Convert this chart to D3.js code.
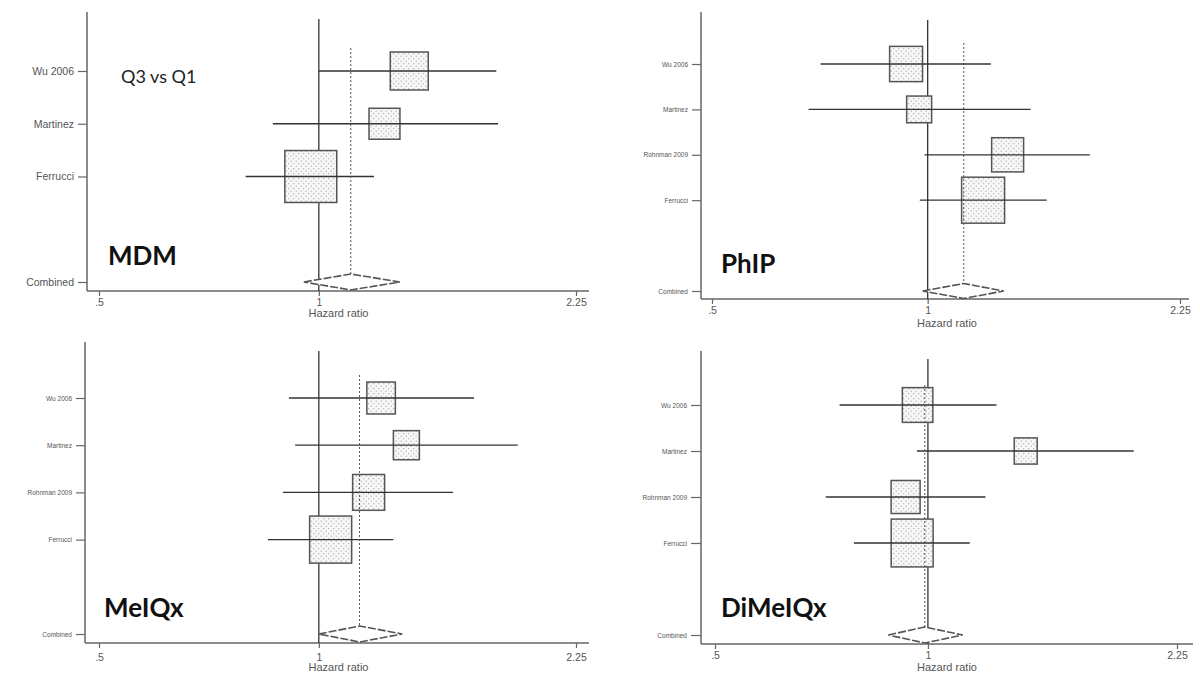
<!DOCTYPE html>
<html>
<head>
<meta charset="utf-8">
<script src="https://cdn.jsdelivr.net/npm/d3@7"></script>
<style>
  body { margin: 0; background: #fff; }
  .lbl text { font-family: "Liberation Sans", Arial, sans-serif; fill: #555; }
</style>
</head>
<body>
<div id="chart"></div>
<script>
let width = 1200, height = 673;

// study names and x-axis ticks
const studies3 = ['Wu 2006', 'Martinez', 'Ferrucci'];
const studies4 = ['Wu 2006', 'Martinez', 'Rohnman 2009', 'Ferrucci'];
const xTicks = [0.5, 1, 2.25];
const xTickLabels = ['.5', '1', '2.25'];

// MDM (Q3 vs Q1): hazard ratio, 95% CI, weight (%), combined [hr, low, high]
const mdmHR = [1.33, 1.23, 0.975];
const mdmLow = [1.0, 0.865, 0.794];
const mdmHigh = [1.75, 1.76, 1.19];
const mdmWeight = [28.3, 18.8, 52.9];
const mdmCombined = [1.106, 0.954, 1.291];

// PhIP
const phipHR = [0.933, 0.973, 1.293, 1.195];
const phipLow = [0.709, 0.682, 0.99, 0.975];
const phipHigh = [1.225, 1.392, 1.684, 1.466];
const phipWeight = [23.7, 13.6, 22.3, 40.3];
const phipCombined = [1.123, 0.984, 1.277];

// MeIQx
const meiqxHR = [1.217, 1.318, 1.17, 1.038];
const meiqxLow = [0.91, 0.928, 0.893, 0.852];
const meiqxHigh = [1.631, 1.872, 1.527, 1.265];
const meiqxWeight = [19.0, 15.8, 23.9, 41.3];
const meiqxCombined = [1.137, 1.0, 1.301];

// DiMeIQx
const dimeiqxHR = [0.967, 1.375, 0.93, 0.95];
const dimeiqxLow = [0.75, 0.965, 0.717, 0.786];
const dimeiqxHigh = [1.25, 1.954, 1.206, 1.146];
const dimeiqxWeight = [22.9, 13.0, 20.7, 43.4];
const dimeiqxCombined = [0.99, 0.879, 1.12];

let svg = d3.select('#chart')
    .append('svg')
    .attr('width', width)
    .attr('height', height);

// dotted fill for the study boxes
let pat = svg.append('defs').append('pattern')
    .attr('id', 'dots')
    .attr('width', 5).attr('height', 5)
    .attr('patternUnits', 'userSpaceOnUse');
pat.append('rect').attr('width', 5).attr('height', 5).attr('fill', '#f7f7f7');
pat.append('circle').attr('cx', 1.2).attr('cy', 1.2).attr('r', 0.65).attr('fill', '#a8a8a8');
pat.append('circle').attr('cx', 3.7).attr('cy', 3.7).attr('r', 0.65).attr('fill', '#a8a8a8');

let panels = [
    {title: 'MDM', sub: 'Q3 vs Q1', names: studies3, hr: mdmHR, low: mdmLow, high: mdmHigh, wt: mdmWeight, comb: mdmCombined,
     left: 87, right: 589, top: 12, axisY: 291, x05: 99, x225: 576, rowFirst: 71, rowLast: 282,
     refTop: 19, dashTop: 48, boxK: 7.14, aspect: 1.0, labelSize: 10.5, labelRight: 74,
     titleX: 108, titleY: 265, tickY: 306, hazY: 317, dh: 8},
    {title: 'PhIP', names: studies4, hr: phipHR, low: phipLow, high: phipHigh, wt: phipWeight, comb: phipCombined,
     left: 701, right: 1189, top: 12, axisY: 299, x05: 712, x225: 1180, rowFirst: 64, rowLast: 291,
     refTop: 20, dashTop: 43, boxK: 6.77, aspect: 1.07, labelSize: 6.5, labelRight: 688,
     titleX: 721, titleY: 273, tickY: 314, hazY: 327, dh: 7.5},
    {title: 'MeIQx', names: studies4, hr: meiqxHR, low: meiqxLow, high: meiqxHigh, wt: meiqxWeight, comb: meiqxCombined,
     left: 85, right: 589, top: 342, axisY: 643, x05: 99, x225: 576, rowFirst: 398, rowLast: 634,
     refTop: 351, dashTop: 375, boxK: 6.54, aspect: 1.12, labelSize: 6.5, labelRight: 72,
     titleX: 104, titleY: 617, tickY: 661, hazY: 671, dh: 8},
    {title: 'DiMeIQx', names: studies4, hr: dimeiqxHR, low: dimeiqxLow, high: dimeiqxHigh, wt: dimeiqxWeight, comb: dimeiqxCombined,
     left: 701, right: 1193, top: 351, axisY: 644, x05: 715, x225: 1177, rowFirst: 405, rowLast: 635,
     refTop: 359, dashTop: 385, boxK: 6.37, aspect: 1.14, labelSize: 6.5, labelRight: 687,
     titleX: 721, titleY: 617, tickY: 659, hazY: 671, dh: 8}
];

panels.forEach(drawPanel);

function drawPanel(p) {
    let g = svg.append('g');
    let n = p.names.length;

    let xScale = d3.scaleLog()
        .domain([0.5, 2.25])
        .range([p.x05, p.x225]);
    // studies on rows 0..n-1, one empty row, then the combined estimate
    let yScale = d3.scaleLinear()
        .domain([0, n + 1])
        .range([p.rowFirst, p.rowLast]);
    let boxScale = d3.scaleSqrt()
        .domain([0, 1])
        .range([0, p.boxK]);

    let rows = p.names.map((name, i) => ({name: name, i: i, hr: p.hr[i], low: p.low[i], high: p.high[i], wt: p.wt[i]}));

    // axes lines
    g.append('line')
        .attr('x1', p.left).attr('x2', p.left)
        .attr('y1', p.top).attr('y2', p.axisY)
        .attr('stroke', '#666').attr('stroke-width', 1.5);
    g.append('line')
        .attr('x1', p.left).attr('x2', p.right)
        .attr('y1', p.axisY).attr('y2', p.axisY)
        .attr('stroke', '#666').attr('stroke-width', 1.5);

    // x axis ticks
    let xAxis = d3.axisBottom(xScale)
        .tickValues(xTicks)
        .tickFormat((d, i) => xTickLabels[i])
        .tickSize(5)
        .tickPadding(2);
    let xg = g.append('g')
        .attr('class', 'lbl')
        .attr('transform', `translate(0,${p.axisY})`)
        .call(xAxis);
    xg.select('.domain').remove();
    xg.selectAll('line').attr('stroke', '#666').attr('stroke-width', 1.2);
    xg.selectAll('text')
        .attr('y', null).attr('dy', null)
        .attr('transform', `translate(0,${p.tickY - p.axisY})`)
        .style('font-size', '10.5px');

    // y axis ticks and labels
    let yVals = d3.range(n).concat([n + 1]);
    let yLabels = p.names.concat(['Combined']);
    let yAxis = d3.axisLeft(yScale)
        .tickValues(yVals)
        .tickFormat((d, i) => yLabels[i])
        .tickSize(p.left - p.labelRight - 4)
        .tickPadding(4);
    let yg = g.append('g')
        .attr('class', 'lbl')
        .attr('transform', `translate(${p.left},0)`)
        .call(yAxis);
    yg.select('.domain').remove();
    yg.selectAll('line').attr('stroke', '#666').attr('stroke-width', 1.2);
    yg.selectAll('text').style('font-size', p.labelSize + 'px');

    // line of no effect
    g.append('line')
        .attr('x1', xScale(1)).attr('x2', xScale(1))
        .attr('y1', p.refTop).attr('y2', p.axisY)
        .attr('stroke', '#333').attr('stroke-width', 1.3);

    // study boxes
    g.selectAll('rect.box')
        .data(rows)
        .join('rect')
        .attr('class', 'box')
        .attr('x', d => xScale(d.hr) - boxScale(d.wt) / 2)
        .attr('y', d => yScale(d.i) - boxScale(d.wt) * p.aspect / 2)
        .attr('width', d => boxScale(d.wt))
        .attr('height', d => boxScale(d.wt) * p.aspect)
        .attr('fill', 'url(#dots)')
        .attr('stroke', '#555')
        .attr('stroke-width', 1.5);

    // confidence intervals
    g.selectAll('line.ci')
        .data(rows)
        .join('line')
        .attr('class', 'ci')
        .attr('x1', d => xScale(d.low))
        .attr('x2', d => xScale(d.high))
        .attr('y1', d => yScale(d.i))
        .attr('y2', d => yScale(d.i))
        .attr('stroke', '#333')
        .attr('stroke-width', 1.3);

    // combined estimate line
    g.append('line')
        .attr('x1', xScale(p.comb[0])).attr('x2', xScale(p.comb[0]))
        .attr('y1', p.dashTop).attr('y2', p.axisY)
        .attr('stroke', '#555').attr('stroke-width', 1)
        .attr('stroke-dasharray', '2,2');

    // combined diamond
    let yc = yScale(n + 1);
    let pts = [
        [xScale(p.comb[1]), yc],
        [xScale(p.comb[0]), yc - p.dh],
        [xScale(p.comb[2]), yc],
        [xScale(p.comb[0]), yc + p.dh]
    ];
    g.append('path')
        .attr('d', d3.line()(pts) + 'Z')
        .attr('fill', '#fff')
        .attr('stroke', '#555')
        .attr('stroke-width', 1.6)
        .attr('stroke-dasharray', '8,2');

    // x axis title
    g.append('text')
        .attr('x', (p.x05 + p.x225) / 2 + 1)
        .attr('y', p.hazY)
        .attr('text-anchor', 'middle')
        .style('font-family', '"Liberation Sans", Arial, sans-serif')
        .style('font-size', '11px')
        .style('fill', '#555')
        .text('Hazard ratio');

    // panel title
    g.append('text')
        .attr('x', p.titleX)
        .attr('y', p.titleY)
        .style('font-family', 'Lato, "Open Sans", sans-serif')
        .style('font-weight', 'bold')
        .style('font-size', '26px')
        .style('fill', '#111')
        .text(p.title);

    if (p.sub) {
        g.append('text')
            .attr('x', 121)
            .attr('y', 83)
            .style('font-family', 'Lato, "Open Sans", sans-serif')
            .style('font-size', '18px')
            .style('fill', '#222')
            .text(p.sub);
    }
}
</script>
</body>
</html>
